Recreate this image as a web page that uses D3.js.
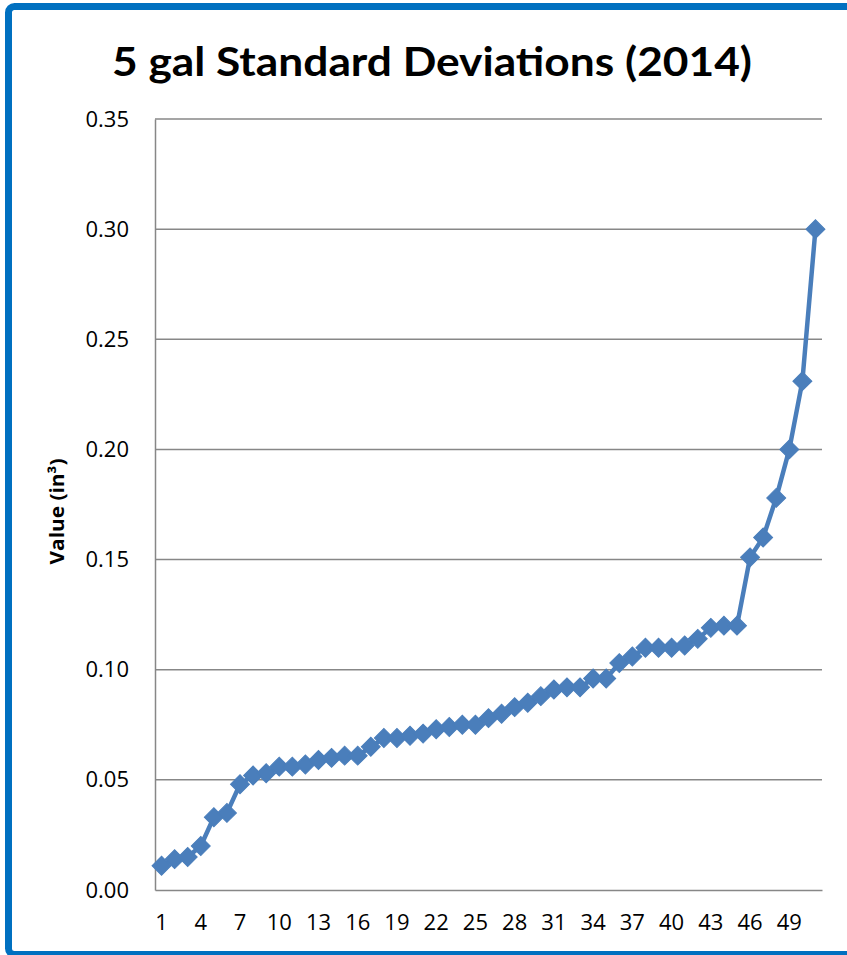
<!DOCTYPE html>
<html>
<head>
<meta charset="utf-8">
<script src="https://cdn.jsdelivr.net/npm/d3@7/dist/d3.min.js"></script>
<style>
  html, body { margin: 0; padding: 0; background: #fff; }
  svg { display: block; }
</style>
</head>
<body>
<script>
// Sample index (1..51) and the standard deviation for each sample, sorted ascending
const samples = d3.range(1, 52);
const stdDev = [
  0.011, 0.014, 0.015, 0.020, 0.033, 0.035, 0.048, 0.052, 0.053, 0.056,
  0.056, 0.057, 0.059, 0.060, 0.061, 0.061, 0.065, 0.069, 0.069, 0.070,
  0.071, 0.073, 0.074, 0.075, 0.075, 0.078, 0.080, 0.083, 0.085, 0.088,
  0.091, 0.092, 0.092, 0.096, 0.096, 0.103, 0.106, 0.110, 0.110, 0.110,
  0.111, 0.114, 0.119, 0.120, 0.120, 0.151, 0.160, 0.178, 0.200, 0.231,
  0.300
];
const yTicks = [0, 0.05, 0.10, 0.15, 0.20, 0.25, 0.30, 0.35];
const xTickEvery = 3;

const W = 847, H = 955;
const plot = { left: 155, right: 822, top: 119, bottom: 890 };
const blue = "#4A7EBB";
const grid = "#878787";

const svg = d3.select("body").append("svg")
  .attr("width", W).attr("height", H);

// Chart frame
svg.append("rect")
  .attr("x", 8.5).attr("y", 6.5)
  .attr("width", 850).attr("height", 948)
  .attr("rx", 6).attr("ry", 6)
  .attr("fill", "#fff")
  .attr("stroke", "#0070C0").attr("stroke-width", 7);

// Title
svg.append("text")
  .attr("x", 432).attr("y", 76)
  .attr("text-anchor", "middle")
  .attr("font-family", "Lato, 'Open Sans', sans-serif")
  .attr("font-weight", "bold")
  .attr("font-size", 41)
  .attr("textLength", 640)
  .attr("lengthAdjust", "spacingAndGlyphs")
  .attr("fill", "#000")
  .text("5 gal Standard Deviations (2014)");

const x = d3.scaleBand().domain(samples).range([plot.left, plot.right]).padding(0);
const y = d3.scaleLinear().domain([0, 0.35]).range([plot.bottom, plot.top]);

// Horizontal gridlines
svg.append("g")
  .selectAll("line")
  .data(yTicks.filter(t => t > 0))
  .join("line")
  .attr("x1", plot.left).attr("x2", plot.right)
  .attr("y1", d => y(d)).attr("y2", d => y(d))
  .attr("stroke", grid).attr("stroke-width", 1.5);

// Y axis
const yAxis = svg.append("g")
  .attr("transform", `translate(${plot.left},0)`)
  .call(d3.axisLeft(y).tickValues(yTicks).tickFormat(d3.format(".2f")).tickSize(0).tickPadding(26));
yAxis.select(".domain").attr("stroke", grid).attr("stroke-width", 1.5);
yAxis.selectAll("text")
  .attr("font-family", "'Open Sans', sans-serif")
  .attr("font-size", 22)
  .attr("fill", "#000");

// X axis
const xAxis = svg.append("g")
  .attr("transform", `translate(0,${plot.bottom})`)
  .call(d3.axisBottom(x)
    .tickValues(samples.filter(d => (d - 1) % xTickEvery === 0))
    .tickSize(0).tickPadding(24));
xAxis.select(".domain").attr("stroke", grid).attr("stroke-width", 1.5);
xAxis.selectAll("text")
  .attr("font-family", "'Open Sans', sans-serif")
  .attr("font-size", 22)
  .attr("fill", "#000");

// Y axis title
svg.append("text")
  .attr("transform", `translate(64,${(plot.top + plot.bottom) / 2 + 7}) rotate(-90)`)
  .attr("text-anchor", "middle")
  .attr("font-family", "'Open Sans', sans-serif")
  .attr("font-weight", "bold")
  .attr("font-size", 19)
  .attr("textLength", 106)
  .attr("lengthAdjust", "spacingAndGlyphs")
  .attr("fill", "#000")
  .text("Value (in³)");

const cx = d => x(d) + x.bandwidth() / 2;

// Series line
const line = d3.line()
  .x((d, i) => cx(samples[i]))
  .y(d => y(d));
svg.append("path")
  .datum(stdDev)
  .attr("d", line)
  .attr("fill", "none")
  .attr("stroke", blue)
  .attr("stroke-width", 4.5)
  .attr("stroke-linejoin", "round");

// Diamond markers
const diamond = d3.symbol().type(d3.symbolSquare).size(180);
svg.append("g")
  .selectAll("path")
  .data(stdDev)
  .join("path")
  .attr("d", diamond)
  .attr("transform", (d, i) => `translate(${cx(samples[i])},${y(d)}) rotate(45)`)
  .attr("fill", blue)
  .attr("stroke", blue)
  .attr("stroke-width", 1);
</script>
</body>
</html>
